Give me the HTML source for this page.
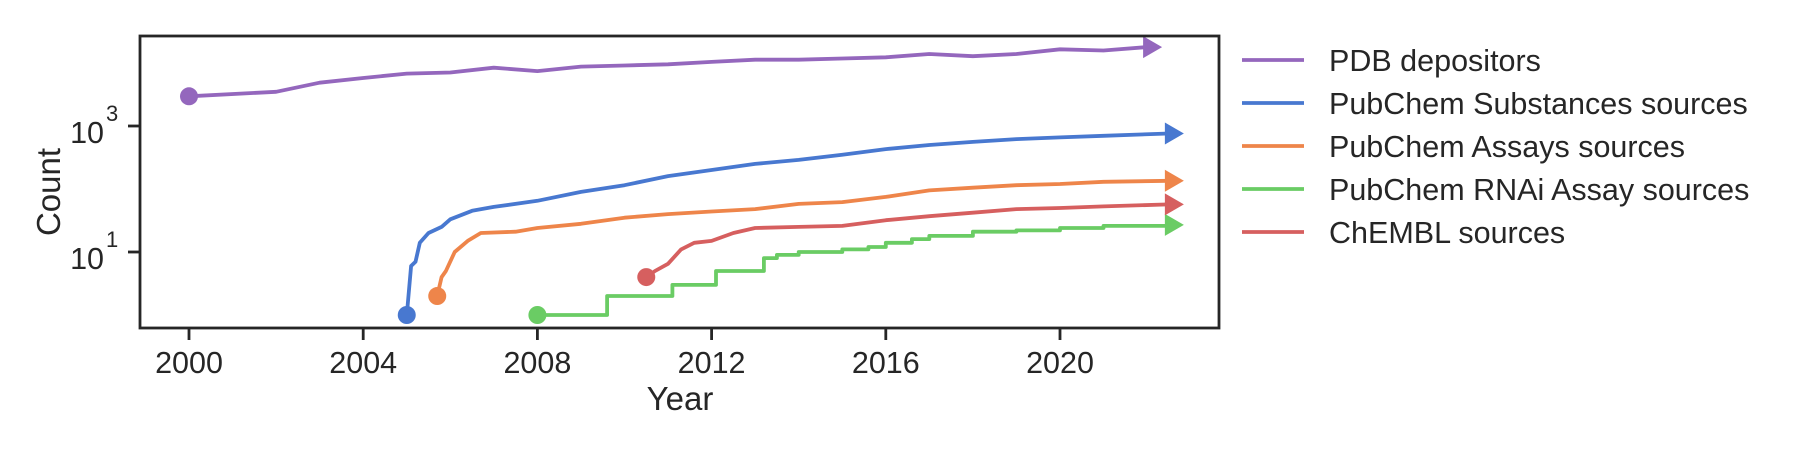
<!DOCTYPE html>
<html><head><meta charset="utf-8"><style>
html,body{margin:0;padding:0;background:#fff;}
svg{display:block;font-family:"Liberation Sans",Arial,sans-serif;}
</style></head><body>
<svg id="chart" width="1800" height="450" viewBox="0 0 1800 450">
<g id="plot"></g>
<g id="axes"></g>
<g id="legend"></g>
</svg>
<script>
const seriesNames = ["PDB depositors","PubChem Substances sources","PubChem Assays sources","PubChem RNAi Assay sources","ChEMBL sources"];
const seriesColors = ["#9467bd","#4878d0","#ee854a","#6acc64","#d65f5f"];
const pdbYears = [2000,2002,2003,2004,2005,2006,2007,2008,2009,2010,2011,2012,2013,2014,2015,2016,2017,2018,2019,2020,2021,2022];
const pdbVals = [2960,3490,4870,5780,6800,7070,8420,7450,8760,9130,9530,10400,11300,11300,11800,12300,13900,12800,13900,16500,15800,17900];
const subYears = [2005.0,2005.1,2005.2,2005.3,2005.5,2005.8,2006.0,2006.5,2007.0,2008.0,2009.0,2010.0,2011.0,2012.0,2013.0,2014.0,2015.0,2016.0,2017.0,2018.0,2019.0,2020.0,2021.0,2022.5];
const subVals = [1,6,7,14,20,25,33,45,52,65,90,115,160,200,250,290,350,430,500,560,620,660,700,760];
const asyYears = [2005.7,2005.8,2005.9,2006.1,2006.4,2006.7,2007.5,2008.0,2009.0,2010.0,2011.0,2012.0,2013.0,2014.0,2015.0,2016.0,2017.0,2018.0,2019.0,2020.0,2021.0,2022.5];
const asyVals = [2,4,5,10,15,20,21,24,28,35,40,44,48,58,62,75,95,105,115,120,130,135];
const rnaiYears = [2008.0,2009.6,2011.1,2012.1,2013.2,2013.5,2014.0,2015.0,2015.6,2016.0,2016.6,2017.0,2018.0,2019.0,2020.0,2021.0,2022.5];
const rnaiVals = [1,2,3,5,8,9,10,11,12,14,16,18,21,22,24,26,27];
const chemblYears = [2010.5,2010.7,2011.0,2011.3,2011.6,2012.0,2012.5,2013.0,2014.0,2015.0,2016.0,2017.0,2018.0,2019.0,2020.0,2021.0,2022.5];
const chemblVals = [4,5,6.5,11,14,15,20,24,25,26,32,37,42,48,50,53,57];
const xTicks = [2000,2004,2008,2012,2016,2020];
const yTickExps = [1,3];

const NS="http://www.w3.org/2000/svg";
const L=140,R=1219,T=36,B=328;
const x=yr=>189+(yr-2000)*43.55;
const y=v=>126-63*(Math.log10(v)-3);
function mk(tag,parent,attrs){const e=document.createElementNS(NS,tag);for(const k in attrs)e.setAttribute(k,attrs[k]);parent.appendChild(e);return e;}
const plot=document.getElementById('plot'),axes=document.getElementById('axes'),legend=document.getElementById('legend');

const data=[[pdbYears,pdbVals,false],[subYears,subVals,false],[asyYears,asyVals,false],[rnaiYears,rnaiVals,true],[chemblYears,chemblVals,false]];
const keys=["pdb","substances","assays","rnai","chembl"];
data.forEach((d,i)=>{
  const [xs,vs,step]=d;const c=seriesColors[i];
  let pts=[];
  for(let j=0;j<xs.length;j++){
    if(step&&j>0)pts.push([x(xs[j]),y(vs[j-1])]);
    pts.push([x(xs[j]),y(vs[j])]);
  }
  const p=mk('polyline',plot,{points:pts.map(p=>p[0].toFixed(1)+','+p[1].toFixed(1)).join(' '),fill:'none',stroke:c,'stroke-width':3.8,'stroke-linejoin':'round'});
  
  
  const c0=mk('circle',plot,{cx:x(xs[0]),cy:y(vs[0]),r:9,fill:c});
  
  
  const ex=x(xs[xs.length-1]),ey=y(vs[vs.length-1]);
  const a=mk('polygon',plot,{points:`${ex-4},${ey-11} ${ex+15},${ey} ${ex-4},${ey+11}`,fill:c});
  
  
});

const fr=mk('rect',axes,{x:L,y:T,width:R-L,height:B-T,fill:'none',stroke:'#262626','stroke-width':2.8});


xTicks.forEach(t=>{
  const tl=mk('line',axes,{x1:x(t),x2:x(t),y1:B,y2:B+12,stroke:'#262626','stroke-width':2.8});
  
  
  const tx=mk('text',axes,{x:x(t),y:373,'text-anchor':'middle','font-size':30.5,fill:'#262626'});
  tx.textContent=t;
  
  
});
yTickExps.forEach(e=>{
  const yy=y(Math.pow(10,e));
  const tl=mk('line',axes,{x1:L-12,x2:L,y1:yy,y2:yy,stroke:'#262626','stroke-width':2.8});
  
  
  const tx=mk('text',axes,{x:104,y:yy+17,'text-anchor':'end','font-size':30.5,fill:'#262626'});
  tx.textContent='10';
  
  
  const sp=mk('text',axes,{x:106,y:yy-5,'font-size':22,fill:'#262626'});
  sp.textContent=String(e);
  
  
});
const xl=mk('text',axes,{x:680,y:410,'text-anchor':'middle','font-size':33,fill:'#262626'});
xl.textContent='Year';


const yl=mk('text',axes,{x:60,y:192,'text-anchor':'middle','font-size':33,fill:'#262626',transform:'rotate(-90 60 192)'});
yl.textContent='Count';



seriesNames.forEach((n,i)=>{
  const yy=60+i*43;
  const ln=mk('line',legend,{x1:1242,x2:1304,y1:yy,y2:yy,stroke:seriesColors[i],'stroke-width':3.8});
  
  
  const tx=mk('text',legend,{x:1329,y:yy+11,'font-size':30.5,fill:'#262626'});
  tx.textContent=n;
  
  
});
</script>
</body></html>
